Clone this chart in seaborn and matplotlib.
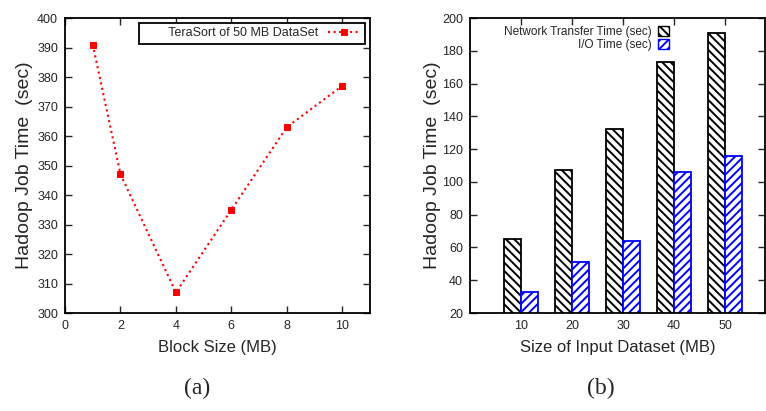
""" Hadoop job time: block size sweep (a) and dataset size breakdown (b) """
import numpy as np
import pandas as pd
import matplotlib
matplotlib.use('Agg')
import matplotlib.pyplot as plt
from matplotlib.patches import Patch
import seaborn as sns

"""  data read off the figure  """
block_size = [1, 2, 4, 6, 8, 10]
job_time = [391, 347, 307, 335, 363, 377]

dataset_size = [10, 20, 30, 40, 50]
net_time = [65, 107, 132, 173, 191]
io_time = [33, 51, 64, 106, 116]
net_label = 'Network Transfer Time (sec)'
io_label = 'I/O Time (sec)'
line_label = 'TeraSort of 50 MB DataSet'

sns.set_style('ticks')
plt.rcParams['font.family'] = ['Liberation Sans Narrow', 'Liberation Sans', 'DejaVu Sans']
plt.rcParams['hatch.linewidth'] = 1.4

fig = plt.figure(figsize=(7.66, 4.11), dpi=100)
ax1 = fig.add_axes([0.0849, 0.2384, 0.3981, 0.7178])
ax2 = fig.add_axes([0.6136, 0.2384, 0.3850, 0.7178])

"""  (a) line plot  """
sns.lineplot(x=block_size, y=job_time, ax=ax1, color='red', marker='s', markersize=5,
             markeredgecolor='red', linestyle=':', linewidth=1.5, label=line_label)
ax1.set_xlim(0, 11)
ax1.set_ylim(300, 400)
ax1.set_xticks(range(0, 11, 2))
ax1.set_yticks(range(300, 401, 10))
ax1.set_xlabel('Block Size (MB)', fontsize=12, family=['Liberation Sans', 'DejaVu Sans'], labelpad=6)
ax1.set_ylabel('Hadoop Job Time  (sec)', fontsize=14, family=['Liberation Sans', 'DejaVu Sans'], labelpad=3)
leg1 = ax1.legend(loc='upper right', markerfirst=False, frameon=True, fancybox=False,
                  edgecolor='black', framealpha=1, fontsize=9, borderaxespad=0.4,
                  handlelength=2.6, borderpad=0.35, numpoints=1)
leg1.get_frame().set_linewidth(1.3)
# gnuplot-style key: wide box, text pushed to the right
for t in leg1.get_texts():
    t.set_text('       ' + line_label)

"""  (b) grouped hatched bars  """
df = pd.DataFrame({
    'size': dataset_size * 2,
    'value': net_time + io_time,
    'metric': [net_label] * len(net_time) + [io_label] * len(io_time),
})
sns.barplot(data=df, x='size', y='value', hue='metric', palette=['black', 'blue'],
            width=0.68, ax=ax2, legend=False)
styles = [('black', '\\\\\\\\'), ('blue', '////')]
for cont, (col, hatch) in zip(ax2.containers, styles):
    for bar in cont:
        bar.set_facecolor('white')
        bar.set_edgecolor(col)
        bar.set_hatch(hatch)
        bar.set_linewidth(1.3)
ax2.set_xlim(-1, 4.78)
ax2.set_ylim(20, 200)
ax2.set_yticks(range(20, 201, 20))
ax2.set_xlabel('Size of Input Dataset (MB)', fontsize=12, family=['Liberation Sans', 'DejaVu Sans'], labelpad=6)
ax2.set_ylabel('Hadoop Job Time  (sec)', fontsize=14, family=['Liberation Sans', 'DejaVu Sans'], labelpad=1)
handles = [Patch(facecolor='white', edgecolor='black', hatch='\\\\\\\\', label=net_label),
           Patch(facecolor='white', edgecolor='blue', hatch='////', label=io_label)]
ax2.legend(handles=handles, loc='upper left', bbox_to_anchor=(0.08, 1.01), markerfirst=False,
           frameon=False, fontsize=8.5, handlelength=0.9, handleheight=0.9,
           labelspacing=0.15, handletextpad=0.5, alignment='right')

for ax in (ax1, ax2):
    ax.tick_params(direction='in', top=True, right=True, length=5, width=1, labelsize=9, pad=5)
    for s in ax.spines.values():
        s.set_linewidth(1.3)
        s.set_color('black')

fig.text(0.257, 0.056, '(a)', ha='center', va='center', fontsize=17, family=['Liberation Serif', 'DejaVu Serif'])
fig.text(0.785, 0.056, '(b)', ha='center', va='center', fontsize=17, family=['Liberation Serif', 'DejaVu Serif'])

fig.savefig('out.png', dpi=100)
